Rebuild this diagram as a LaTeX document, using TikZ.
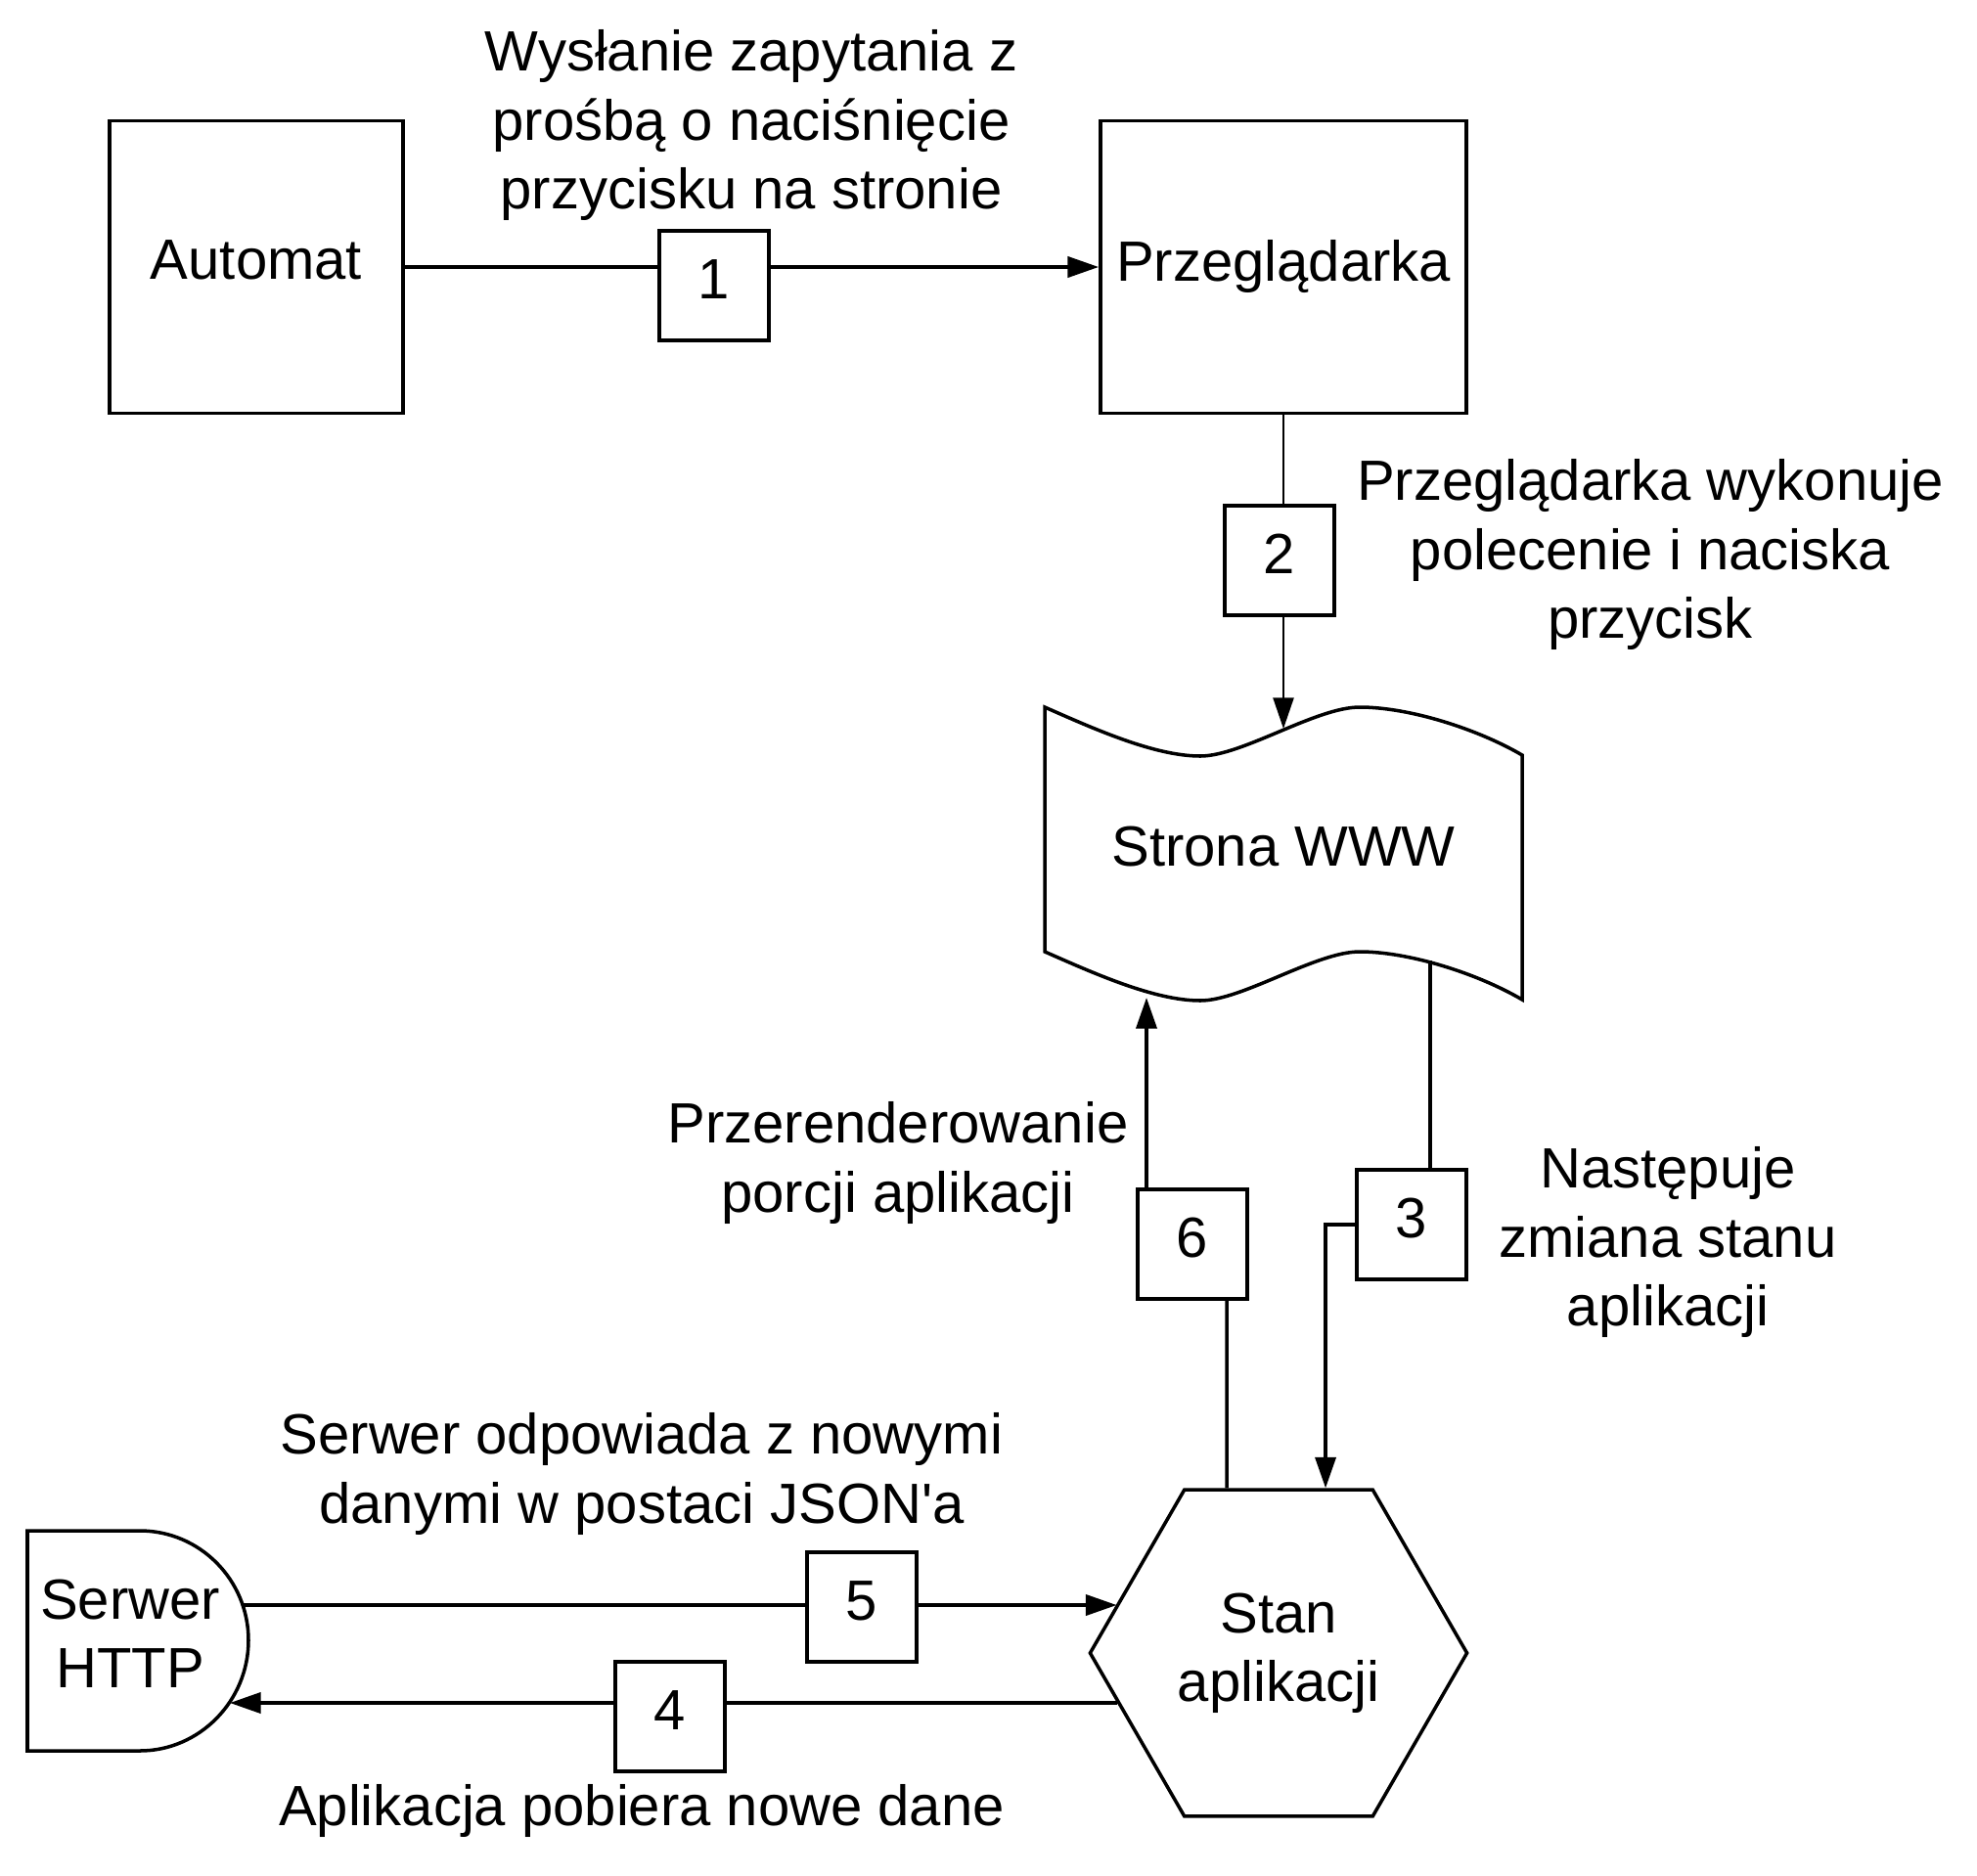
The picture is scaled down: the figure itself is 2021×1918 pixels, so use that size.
\documentclass[tikz,border=0pt]{standalone}
\usepackage{fontspec}
\setmainfont{Liberation Sans}
\usetikzlibrary{arrows.meta,shapes.geometric}

\begin{document}
\begin{tikzpicture}[x=0.01cm,y=-0.01cm,line width=1pt,
  >={Triangle[length=9pt,width=6pt]},
  every node/.style={font=\fontsize{16.5}{20}\selectfont},
  box/.style={draw,minimum height=2.99cm,inner sep=0pt,text depth=0.14cm},
  num/.style={draw,fill=white,minimum size=1.12cm,inner sep=0pt,text depth=0.13cm},
  lbl/.style={align=center,inner sep=0pt},
  thinline/.style={line width=0.6pt}]
  \useasboundingbox (0,0) rectangle (2021,1918);

  \node[box,minimum width=3cm] (automat) at (262,273) {Automat};
  \node[box,minimum width=3.74cm] (browser) at (1312,273) {Przeglądarka};
  \node[lbl] (lbl1) at (768,128) {Wysłanie zapytania z\\prośbą o naciśnięcie\\przycisku na stronie};
  \node[lbl] (lbl2) at (1687,567) {Przeglądarka wykonuje\\polecenie i naciska\\przycisk};

  \draw (1068,723) .. controls (1118,745) and (1180,773) .. (1227,773)
    .. controls (1270,773) and (1345,723) .. (1390,723)
    .. controls (1440,723) and (1510,745) .. (1556,772) -- (1556,1022)
    .. controls (1510,995) and (1440,973) .. (1390,973)
    .. controls (1345,973) and (1270,1023) .. (1227,1023)
    .. controls (1180,1023) and (1118,995) .. (1068,973) -- cycle;
  \node (page) at (1312,866) {Strona WWW};
  \coordinate (page2) at (1312,745);
  \coordinate (page3) at (1462,982);
  \coordinate (page6) at (1172,1020);

  \node[lbl] (lbl6) at (918,1189) {Przerenderowanie\\porcji aplikacji};
  \node[lbl] (lbl3) at (1705,1270) {Następuje\\zmiana stanu\\aplikacji};

  \draw (28,1565) -- (143,1565) .. controls (204,1565) and (254,1615) .. (254,1677)
    .. controls (254,1739) and (204,1790) .. (143,1790) -- (28,1790) -- cycle;
  \node[lbl] (server) at (133,1670) {Serwer\\HTTP};
  \coordinate (srv5) at (248,1641);
  \coordinate (srv4) at (235,1741);

  \node[draw,regular polygon,regular polygon sides=6,minimum size=3.85cm,inner sep=0pt,align=center] (state) at (1307,1690) {Stan\\aplikacji};
  \node[lbl] (lbl5) at (656,1507) {Serwer odpowiada z nowymi\\danymi w postaci JSON\textquotesingle a};
  \node[lbl] (lbl4) at (656,1851) {Aplikacja pobiera nowe dane};

  \node[num] (n1) at (730,292) {1};
  \node[num] (n2) at (1308,573) {2};
  \node[num] (n3) at (1443,1252) {3};
  \node[num] (n4) at (685,1755) {4};
  \node[num] (n5) at (881,1643) {5};
  \node[num] (n6) at (1219,1272) {6};

  \draw (automat) -- (automat -| n1.west);
  \draw[->] (automat -| n1.east) -- (browser);
  \draw[thinline] (browser) -- (browser |- n2.north);
  \draw[thinline,->] (browser |- n2.south) -- (page2);
  \draw (page3) -- (page3 |- n3.north);
  \draw[->] (n3.west) -| ([xshift=0.48cm]state.north);
  \draw ([xshift=-0.53cm]state.north) -- ([xshift=0.35cm]n6.south);
  \draw[->] (page6 |- n6.north) -- (page6);
  \draw (srv4 -| state.197) -- (srv4 -| n4.east);
  \draw[->] (srv4 -| n4.west) -- (srv4);
  \draw (srv5) -- (srv5 -| n5.west);
  \draw[->] (srv5 -| n5.east) -- (srv5 -| state.163);
\end{tikzpicture}
\end{document}
